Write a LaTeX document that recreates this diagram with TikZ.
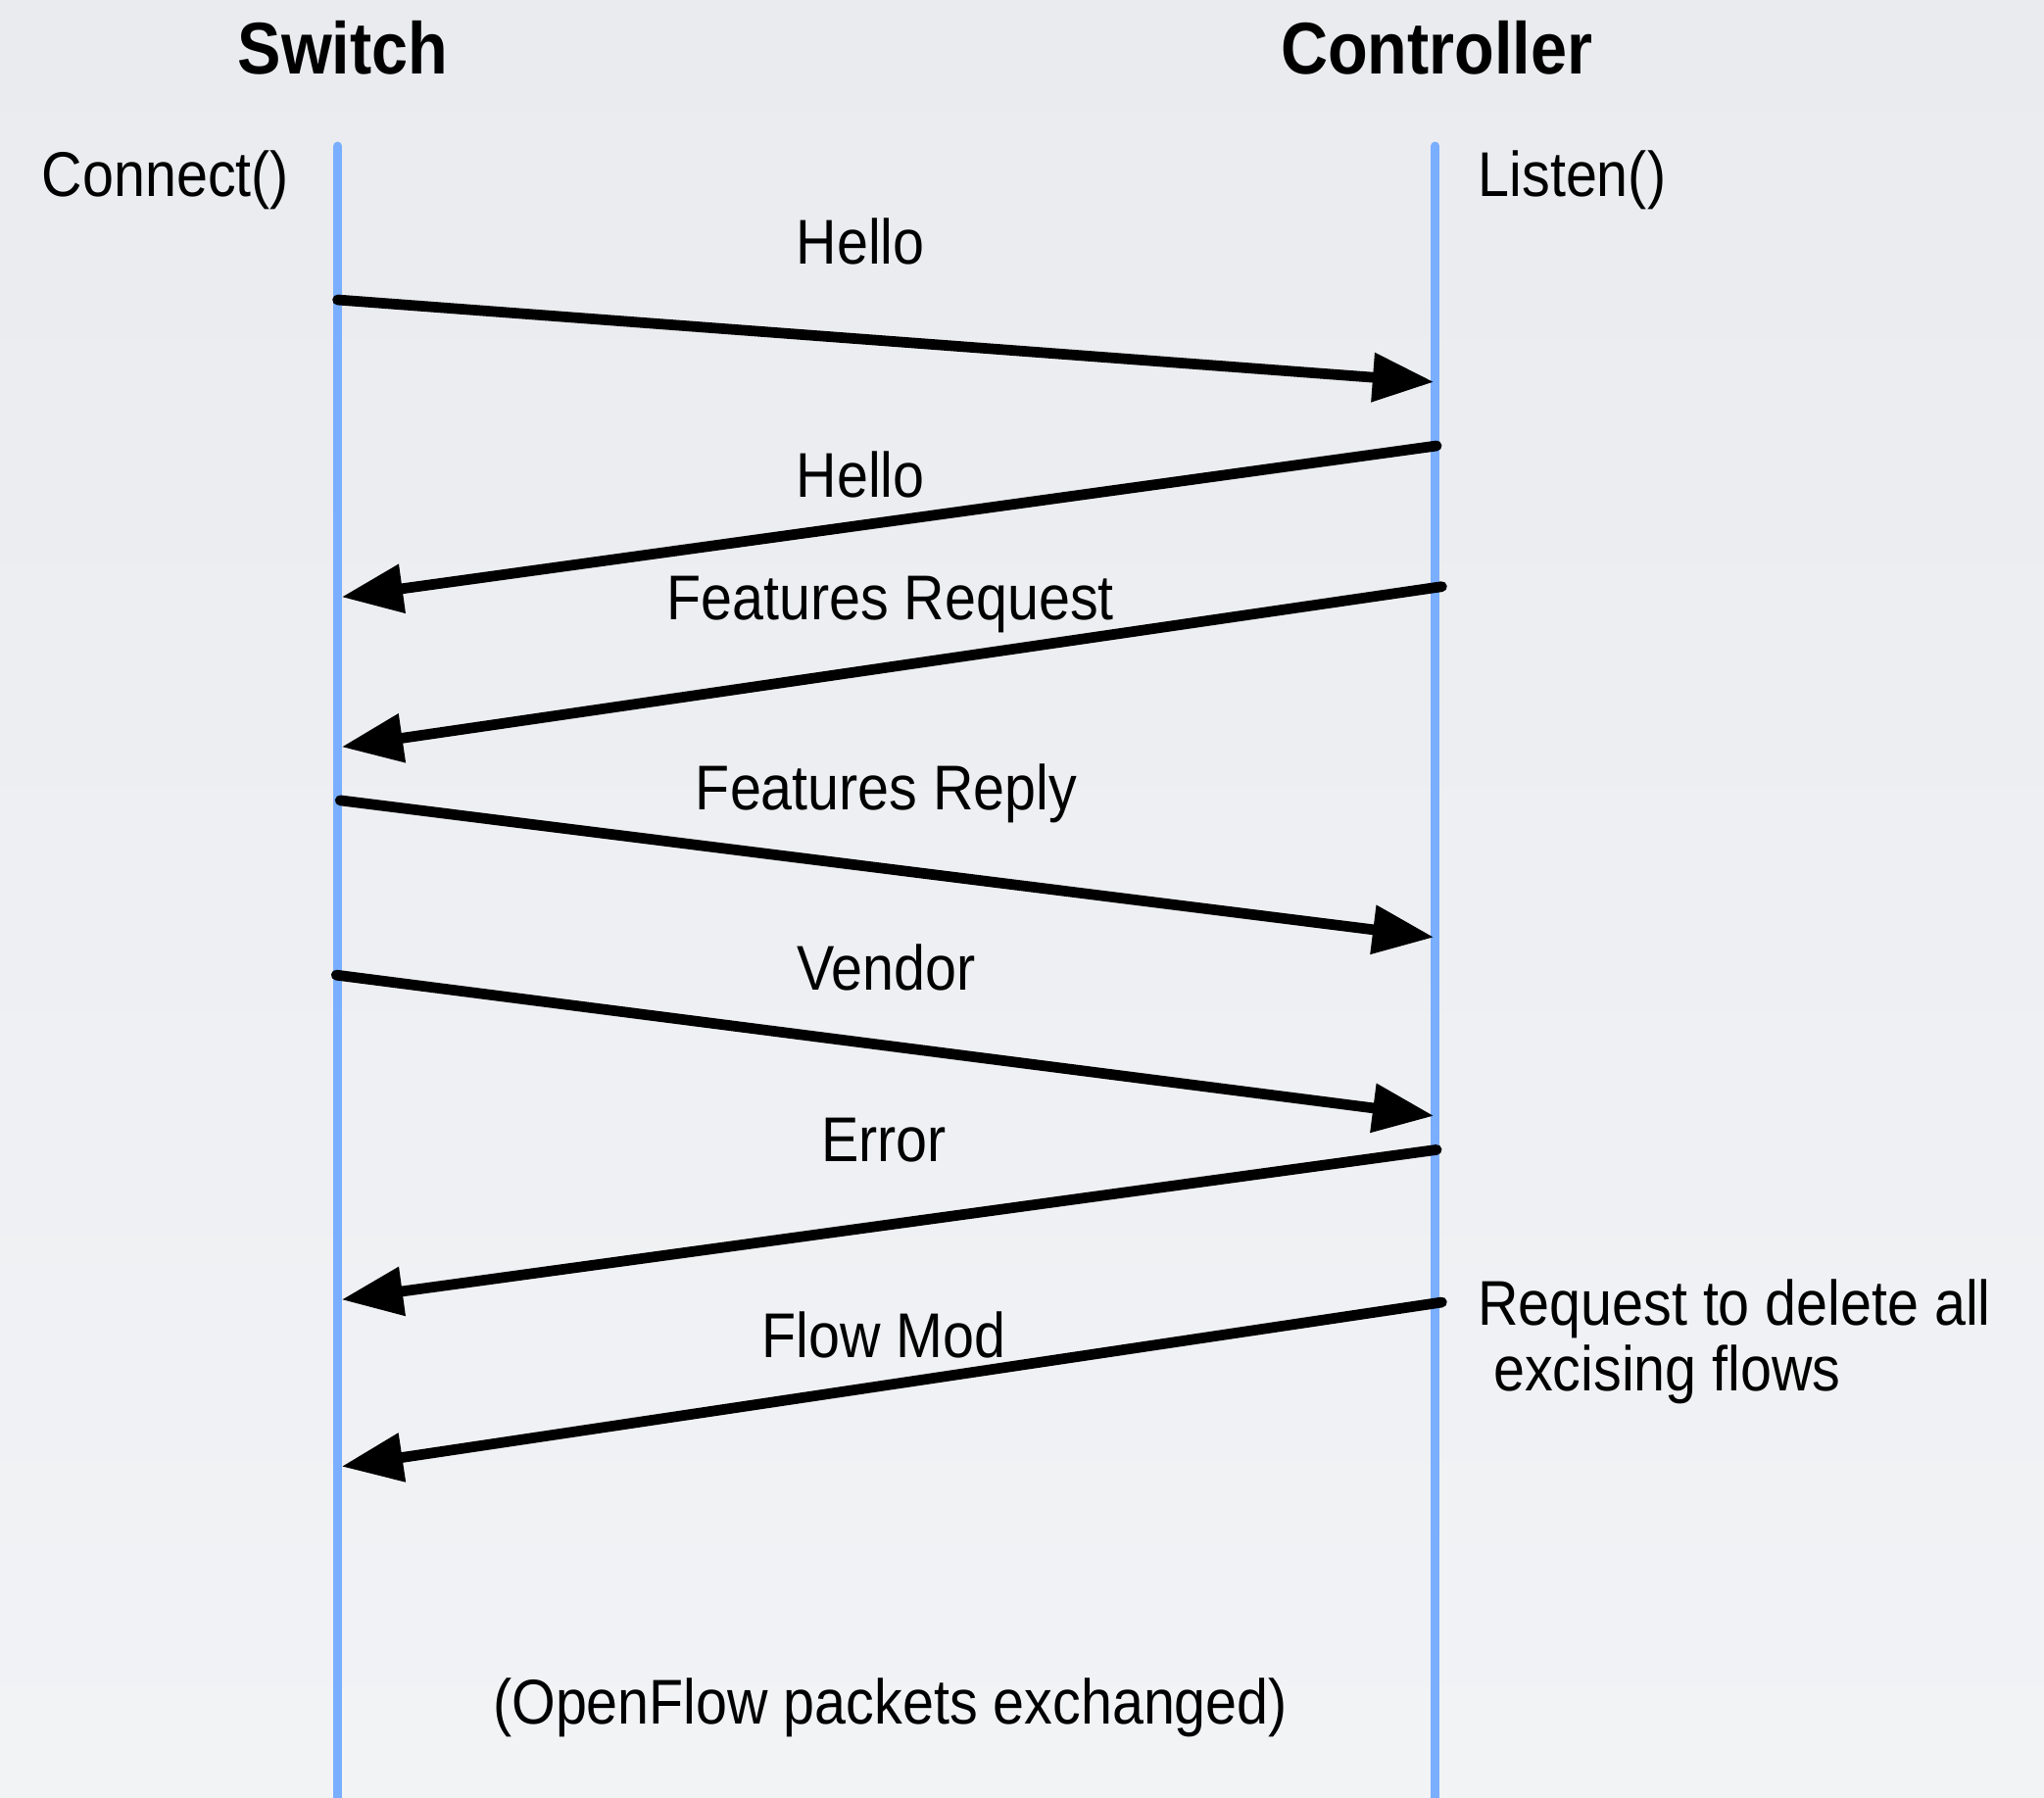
\documentclass[tikz,border=0pt]{standalone}
\usepackage{fontspec}
\setmainfont[FakeStretch=0.89]{Liberation Sans}
\usetikzlibrary{arrows.meta,calc}
\definecolor{BackClr}{HTML}{E9EBEF}
\definecolor{LifeClr}{HTML}{7AAEFF}

\begin{document}
\begin{tikzpicture}[x=1cm,y=-1cm,
  lifeline/.style={line width=1.9pt,color=LifeClr,line cap=round},
  msg/.style={line width=2.3pt,line cap=round,-{Triangle[length=0.47cm,width=0.36cm]}},
  party/.style={inner sep=0pt,font=\fontsize{16}{19}\selectfont\bfseries},
  lbl/.style={inner sep=0pt,font=\fontsize{13.8}{14.2}\selectfont}]

\shade[top color=BackClr,bottom color=BackClr!60!white] (0,0) rectangle (15.68,13.79);
\useasboundingbox (0,0) rectangle (15.68,13.79);

% lifelines
\coordinate (Stop) at (2.59,1.12);
\coordinate (Sbot) at (2.59,13.85);
\coordinate (Ctop) at (11.01,1.12);
\coordinate (Cbot) at (11.01,13.85);
\draw[lifeline] (Stop) -- (Sbot);
\draw[lifeline] (Ctop) -- (Cbot);

\node[party] (switch) at (2.63,0.37) {Switch};
\node[party] (ctrl) at (11.02,0.37) {Controller};
\node[lbl] (connect) at (1.27,1.38) {Connect()};
\node[lbl] (listen) at (12.06,1.38) {Listen()};

% message end points
\coordinate (S1) at (2.59,2.30);  \coordinate (C1) at (11.00,2.93);
\coordinate (C2) at (11.02,3.42); \coordinate (S2) at (2.62,4.58);
\coordinate (C3) at (11.06,4.50); \coordinate (S3) at (2.62,5.73);
\coordinate (S4) at (2.61,6.14);  \coordinate (C4) at (11.00,7.19);
\coordinate (S5) at (2.58,7.48);  \coordinate (C5) at (11.00,8.56);
\coordinate (C6) at (11.02,8.82); \coordinate (S6) at (2.62,9.97);
\coordinate (C7) at (11.06,9.99); \coordinate (S7) at (2.62,11.25);

\draw[msg] (S1) -- (C1);
\draw[msg] (C2) -- (S2);
\draw[msg] (C3) -- (S3);
\draw[msg] (S4) -- (C4);
\draw[msg] (S5) -- (C5);
\draw[msg] (C6) -- (S6);
\draw[msg] (C7) -- (S7);

\node[lbl] (hello) at (6.60,1.85) {Hello};
\node[lbl] (helloback) at (6.60,3.64) {Hello};
\node[lbl] (featreq) at (6.83,4.64) {Features Request};
\node[lbl] (featrep) at (6.80,6.09) {Features Reply};
\node[lbl] (vendor) at (6.80,7.42) {Vendor};
\node[lbl] (error) at (6.78,8.75) {Error};
\node[lbl] (flowmod) at (6.78,10.24) {Flow Mod};

\node[lbl,anchor=north west,align=left] (delnote) at (11.33,9.81)
  {Request to delete all\\\hspace{0.12cm}excising flows};
\node[lbl] (exchanged) at (6.83,13.10) {(OpenFlow packets exchanged)};

\end{tikzpicture}
\end{document}
